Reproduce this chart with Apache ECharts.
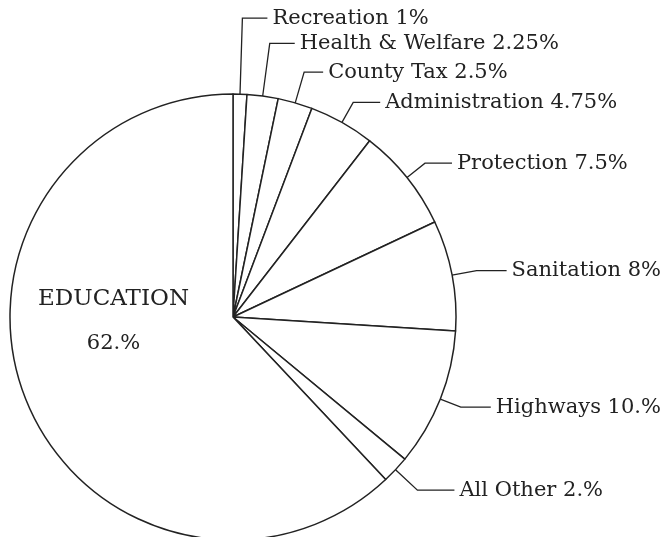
<!DOCTYPE html>
<html>
<head>
<meta charset="utf-8">
<script src="https://cdn.jsdelivr.net/npm/echarts@6/dist/echarts.min.js"></script>
<style>html,body{margin:0;padding:0;background:#fff}</style>
</head>
<body>
<div id="main" style="width:671px;height:537px"></div>
<script>
const names = ['Recreation', 'Health & Welfare', 'County Tax', 'Administration', 'Protection', 'Sanitation', 'Highways', 'All Other', 'EDUCATION'];
const values = [1, 2.25, 2.5, 4.75, 7.5, 8, 10, 2, 62];
const shown = ['1%', '2.25%', '2.5%', '4.75%', '7.5%', '8%', '10.%', '2.%', '62.%'];

// leader line lengths: out from the rim, then across to the text
const lead1 = [76, 53, 32, 23, 23, 25, 22, 30];
const lead2 = [25, 25, 19, 27, 27, 30, 30, 37];

const ink = '#222';
const font = 'DejaVu Serif';

let data = names.map(function (n, i) {
  if (i === names.length - 1) {
    return {
      name: n,
      value: values[i],
      label: {
        position: 'inside',
        offset: [-13, -38],
        formatter: '{a|' + n + '}\n{b|' + shown[i] + '}',
        rich: {
          a: { fontFamily: font, fontSize: 23, color: ink, lineHeight: 45 },
          b: { fontFamily: font, fontSize: 21, color: ink, lineHeight: 45 }
        }
      },
      labelLine: { show: false }
    };
  }
  return {
    name: n,
    value: values[i],
    labelLine: { length: lead1[i], length2: lead2[i] }
  };
});

let chart = echarts.init(document.getElementById('main'));
chart.setOption({
  animation: false,
  backgroundColor: '#fff',
  series: [{
    type: 'pie',
    center: [233, 317],
    radius: 223,
    startAngle: 90,
    clockwise: true,
    avoidLabelOverlap: false,
    silent: true,
    itemStyle: { color: '#fff', borderColor: ink, borderWidth: 1.5 },
    label: {
      position: 'outside',
      distanceToLabelLine: 5,
      fontFamily: font,
      fontSize: 21,
      color: ink,
      formatter: function (p) { return p.name + ' ' + shown[p.dataIndex]; }
    },
    labelLine: { lineStyle: { color: ink, width: 1.3 } },
    data: data
  }]
});
</script>
</body>
</html>
